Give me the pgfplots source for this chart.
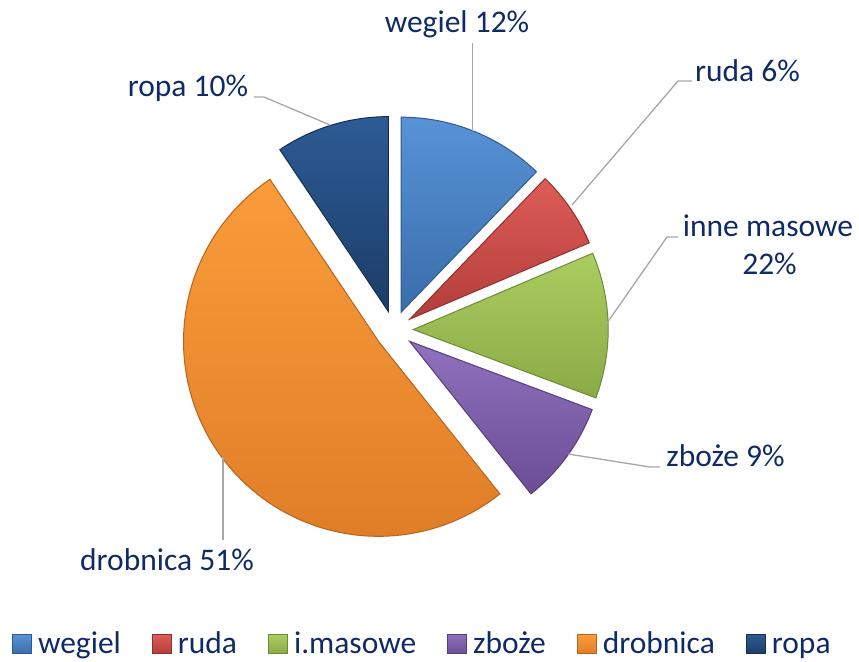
\documentclass[border=0pt]{standalone}
\usepackage{fontspec}
\setmainfont{Carlito}
\usepackage{pgfplots}
\usepackage{pgfplotstable}
\pgfplotsset{compat=1.18}

% slice shares (percent of the circle)
\pgfplotstableread{
name      value
wegiel    12.2
ruda      6.4
imasowe   12.1
zboze     8.6
drobnica  51.3
ropa      9.4
}\piedata

\definecolor{labc}{HTML}{0F2A66}
\definecolor{leader}{HTML}{A6A6A6}
% top / bottom / edge colours per slice
\definecolor{pieT0}{HTML}{5893D6}\definecolor{pieB0}{HTML}{3A6DAA}\definecolor{pieE0}{HTML}{2F5A8E}
\definecolor{pieT1}{HTML}{DE5C58}\definecolor{pieB1}{HTML}{B23E3B}\definecolor{pieE1}{HTML}{8E2F2C}
\definecolor{pieT2}{HTML}{AACD60}\definecolor{pieB2}{HTML}{8AAA47}\definecolor{pieE2}{HTML}{6E8A35}
\definecolor{pieT3}{HTML}{8F71BE}\definecolor{pieB3}{HTML}{6B4E95}\definecolor{pieE3}{HTML}{553D78}
\definecolor{pieT4}{HTML}{FA9C3A}\definecolor{pieB4}{HTML}{E07E28}\definecolor{pieE4}{HTML}{B8621C}
\definecolor{pieT5}{HTML}{2D5B94}\definecolor{pieB5}{HTML}{1C3D69}\definecolor{pieE5}{HTML}{152F52}

\newcommand\lbl{\fontsize{31.5}{38}\selectfont}
\def\pcx{394}\def\pcy{331}\def\prad{195}\def\pexp{19.2}

\begin{document}
\begin{tikzpicture}
\begin{axis}[
    scale only axis, width=859pt, height=661pt,
    xmin=0, xmax=859, ymin=0, ymax=661,
    hide axis, clip=false,
    legend columns=6,
    legend entries={wegiel,ruda,i.masowe,zboże,drobnica,ropa},
    legend image code/.code={\draw[#1] (0pt,0pt) rectangle (19pt,19pt);},
    legend style={draw=none, fill=none, inner sep=0pt, outer sep=0pt,
        at={(axis cs:12,7)}, anchor=south west, font=\lbl, text=labc,
        cells={anchor=base west}, nodes={inner sep=0pt, text depth=0pt},
        /tikz/every odd column/.append style={column sep=6pt},
        /tikz/every even column/.append style={column sep=31pt}},
]
\def\cum{0}
\pgfplotsforeachungrouped \i in {0,...,5}{%
    \pgfplotstablegetelem{\i}{value}\of\piedata
    \let\v=\pgfplotsretval
    \pgfmathsetmacro\sa{90-3.6*\cum}%
    \pgfmathsetmacro\cum{\cum+\v}%
    \pgfmathsetmacro\sb{90-3.6*\cum}%
    \pgfmathsetmacro\sm{(\sa+\sb)/2}%
    \pgfmathsetmacro\cx{\pcx+\pexp*cos(\sm)}%
    \pgfmathsetmacro\cy{\pcy+\pexp*sin(\sm)}%
    \edef\cmd{\noexpand\addplot[draw=pieE\i, line width=1pt, top color=pieT\i,
        bottom color=pieB\i, domain=\sb:\sa, samples=90]
        ({\cx+\prad*cos(x)},{\cy+\prad*sin(x)}) -- (axis cs:\cx,\cy) -- cycle;}%
    \cmd
}

% leader lines
\begin{scope}[leader, line width=1.3pt]
\draw (axis cs:472.7,618) -- (axis cs:472.7,530);
\draw (axis cs:692,580) -- (axis cs:678,580) -- (axis cs:572,456);
\draw (axis cs:678,424) -- (axis cs:667,424) -- (axis cs:607,338);
\draw (axis cs:660,194) -- (axis cs:650,194) -- (axis cs:568,207);
\draw (axis cs:223,121) -- (axis cs:223,204);
\draw (axis cs:254,564) -- (axis cs:264,564) -- (axis cs:330,536);
\end{scope}

% data labels
\begin{scope}[every node/.style={anchor=base, inner sep=0pt, text=labc, font=\lbl}]
\node at (axis cs:457,628) {wegiel 12\%};
\node at (axis cs:747.5,579) {ruda 6\%};
\node at (axis cs:768,424) {inne masowe};
\node at (axis cs:769.5,386) {22\%};
\node at (axis cs:725.5,194) {zboże 9\%};
\node at (axis cs:167,90) {drobnica 51\%};
\node at (axis cs:188,564) {ropa 10\%};
\end{scope}
\end{axis}
\pgfresetboundingbox
\path (0,0) rectangle (859pt,661pt);
\end{tikzpicture}
\end{document}
